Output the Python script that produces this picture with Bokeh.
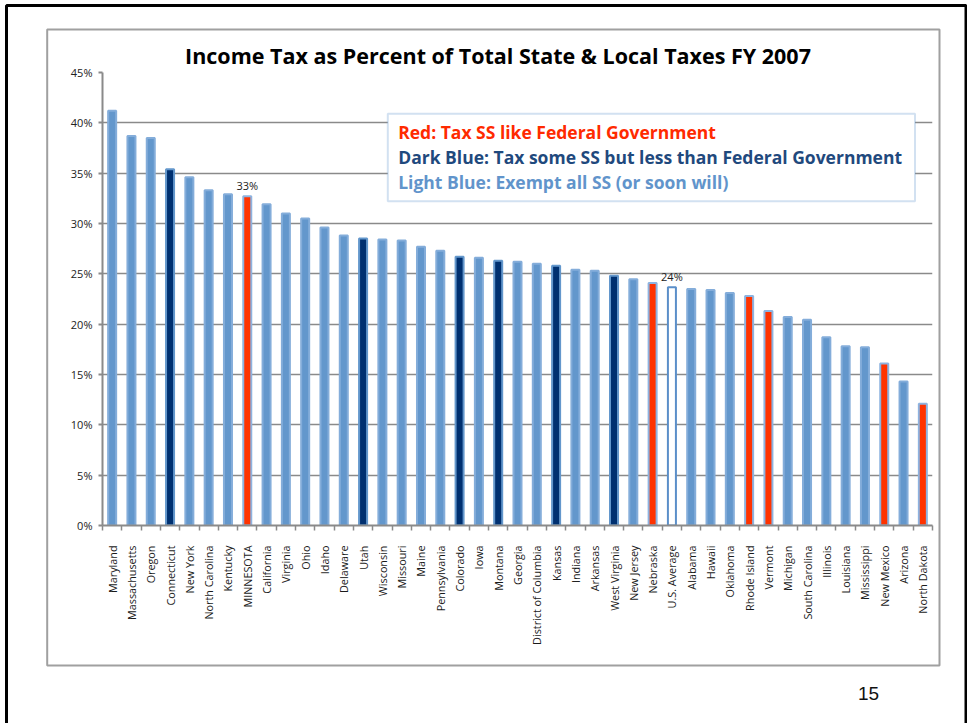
import math
from bokeh.plotting import figure
from bokeh.models import (Range1d, FixedTicker, PrintfTickFormatter, BoxAnnotation,
                          Label, ColumnDataSource)
from bokeh.core.properties import value
from bokeh.embed import file_html
from bokeh.resources import INLINE

# ---------------- data ----------------
states = ["Maryland", "Massachusetts", "Oregon", "Connecticut", "New York",
          "North Carolina", "Kentucky", "MINNESOTA", "California", "Virginia",
          "Ohio", "Idaho", "Delaware", "Utah", "Wisconsin", "Missouri", "Maine",
          "Pennsylvania", "Colorado", "Iowa", "Montana", "Georgia",
          "District of Columbia", "Kansas", "Indiana", "Arkansas", "West Virginia",
          "New Jersey", "Nebraska", "U.S. Average", "Alabama", "Hawaii", "Oklahoma",
          "Rhode Island", "Vermont", "Michigan", "South Carolina", "Illinois",
          "Louisiana", "Mississippi", "New Mexico", "Arizona", "North Dakota"]
values = [41.2, 38.7, 38.5, 35.4, 34.6,
          33.3, 32.9, 32.7, 31.9, 31.0,
          30.5, 29.6, 28.8, 28.5, 28.4, 28.3, 27.7,
          27.3, 26.7, 26.6, 26.3, 26.2,
          26.0, 25.8, 25.4, 25.3, 24.8,
          24.45, 24.1, 23.66, 23.5, 23.4, 23.1,
          22.8, 21.3, 20.7, 20.45, 18.7,
          17.8, 17.7, 16.1, 14.3, 12.1]
groups = ["light", "light", "light", "dark", "light",
          "light", "light", "red", "light", "light",
          "light", "light", "light", "dark", "light", "light", "light",
          "light", "dark", "light", "dark", "light",
          "light", "dark", "light", "light", "dark",
          "light", "red", "avg", "light", "light", "light",
          "red", "red", "light", "light", "light",
          "light", "light", "red", "light", "red"]
labeled = ["MINNESOTA", "U.S. Average"]
y_ticks = [0, 5, 10, 15, 20, 25, 30, 35, 40, 45]
title_text = "Income Tax as Percent of Total State & Local Taxes FY 2007"
legend_lines = ["Red:  Tax SS like Federal Government",
                "Dark Blue:  Tax some SS but less than Federal Government",
                "Light Blue:  Exempt all SS (or soon will)"]
page_number = "15"

# ---------------- styles ----------------
FILL = {"light": "#6397CC", "dark": "#003070", "red": "#FF3300", "avg": "#FFFFFF"}
EDGE = {"light": "#84ADDA", "dark": "#6397CC", "red": "#8DB3E0", "avg": "#5B8FC9"}
LEGEND_COLORS = ["#FF2A00", "#1F497D", "#6194CB"]
GRAY = "#8A8A8A"

W, H = 967, 723
FRAME_L, FRAME_T, FW, FH = 102, 72, 830, 453
n = len(states)
x0, x1 = -0.5, n - 0.5
y0, y1 = 0, 45


def rx(px):  # page pixel x -> data x
    return x0 + (px - FRAME_L) * (x1 - x0) / FW


def ry(py):  # page pixel y -> data y
    return y1 - (py - FRAME_T) * (y1 - y0) / FH


p = figure(frame_width=FW, frame_height=FH,
           x_range=Range1d(x0, x1), y_range=Range1d(y0, y1),
           output_backend="svg", toolbar_location=None,
           min_border_left=FRAME_L, min_border_right=W - FRAME_L - FW,
           min_border_top=FRAME_T, min_border_bottom=H - FRAME_T - FH)
p.outline_line_color = None
p.background_fill_color = "white"
p.border_fill_color = "white"
p.xgrid.visible = False
p.ygrid.grid_line_color = GRAY
p.ygrid.grid_line_width = 1.6

src = ColumnDataSource(dict(
    x=list(range(n)), top=values,
    fill=[FILL[g] for g in groups], edge=[EDGE[g] for g in groups]))
p.vbar(x="x", top="top", width=0.415, bottom=0, source=src,
       fill_color="fill", line_color="edge", line_width=2)

lab_idx = [states.index(s) for s in labeled]
lsrc = ColumnDataSource(dict(
    x=lab_idx, y=[values[i] + 1.1 for i in lab_idx],
    t=["%d%%" % round(values[i]) for i in lab_idx]))
p.text(x="x", y="y", text="t", source=lsrc, text_font=value("Open Sans"),
       text_font_size="11px", text_align="center", text_baseline="middle",
       text_color="#222222")

# y axis
ya = p.yaxis[0]
ya.ticker = FixedTicker(ticks=y_ticks)
ya.formatter = PrintfTickFormatter(format="%d%%")
ya.axis_line_color = GRAY
ya.axis_line_width = 2
ya.major_tick_line_color = GRAY
ya.major_tick_line_width = 2
ya.major_tick_out = 4
ya.major_tick_in = 0
ya.minor_tick_line_color = None
ya.major_label_standoff = 6
ya.major_label_text_font = "Open Sans"
ya.major_label_text_font_size = "11px"
ya.major_label_text_color = "#222222"

# x axis
xa = p.xaxis[0]
xa.ticker = FixedTicker(ticks=list(range(n)),
                        minor_ticks=[i - 0.5 for i in range(n + 1)])
xa.major_label_overrides = {i: s for i, s in enumerate(states)}
xa.major_label_orientation = math.pi / 2
xa.axis_line_color = GRAY
xa.axis_line_width = 2
xa.major_tick_line_color = None
xa.major_tick_out = 0
xa.major_tick_in = 0
xa.minor_tick_line_color = GRAY
xa.minor_tick_line_width = 1.5
xa.minor_tick_out = 5
xa.minor_tick_in = 0
xa.major_label_standoff = 15
xa.major_label_text_font = "Open Sans"
xa.major_label_text_font_size = "10.8px"
xa.major_label_text_color = "#1A1A1A"

# legend box
p.add_layout(BoxAnnotation(left=rx(387.3), right=rx(914.5), top=ry(113.3), bottom=ry(200.7),
                           fill_color="white", fill_alpha=1.0,
                           line_color="#6A9BD0", line_width=2))
for i, (txt, col) in enumerate(zip(legend_lines, LEGEND_COLORS)):
    p.add_layout(Label(x=rx(397.7), y=ry(131.7 + 25 * i), text=txt, text_color=col,
                       text_font="Open Sans", text_font_style="bold", text_font_size="17.5px",
                       text_align="left", text_baseline="middle"))

# title, page number and boxes outside the plot area (overlay level, not clipped)
p.text(x=[rx(497.5)], y=[ry(55)], text=[title_text], text_font=value("Open Sans"),
       text_font_style="bold", text_font_size="21.5px", text_color="#000000",
       text_align="center", text_baseline="middle", level="overlay")
p.text(x=[rx(868)], y=[ry(693)], text=[page_number], text_font=value("Liberation Sans"),
       text_font_size="19px", text_color="#111111",
       text_align="center", text_baseline="middle", level="overlay")
p.quad(left=[rx(46.7)], right=[rx(939)], top=[ry(29)], bottom=[ry(665)],
       fill_color=None, line_color="#A0A0A0", line_width=2, level="overlay")
p.quad(left=[rx(6)], right=[rx(965.5)], top=[ry(5)], bottom=[ry(800)],
       fill_color=None, line_color="#000000", line_width=3, level="overlay")

open("out.html", "w").write(file_html(p, INLINE))
